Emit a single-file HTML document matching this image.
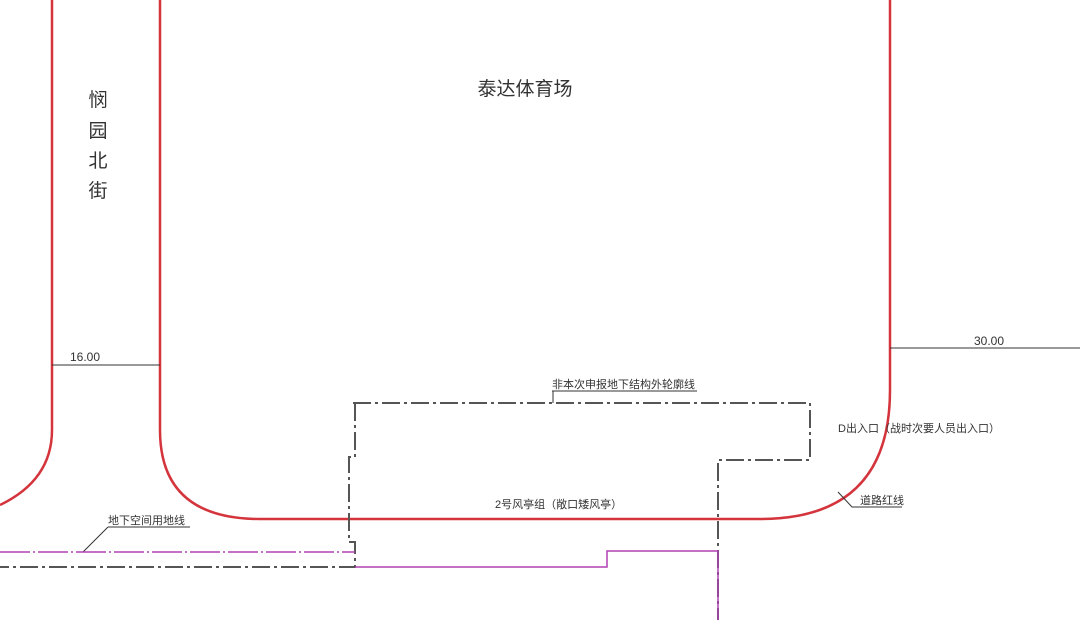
<!DOCTYPE html>
<html><head><meta charset="utf-8"><style>
html,body{margin:0;padding:0;background:#fff;}
svg{display:block;}
text{font-family:"Liberation Sans","Noto Sans CJK SC",sans-serif;fill:#333;}
</style></head><body>
<svg width="1080" height="620" viewBox="0 0 1080 620" xmlns="http://www.w3.org/2000/svg">
<g fill="none" stroke="#d4343c" stroke-width="2.5">
<path d="M52 0 V430 Q52 480 0 505"/>
<path d="M160 0 V430 Q160 519 260 519 H760 Q890 519 890 390 V0"/>
</g>
<g stroke="#333" stroke-width="1" fill="none">
<path d="M52 365 H160"/>
<path d="M890 348 H1080"/>
<path d="M552 391 H697 M553 391 V403"/>
<path d="M860 507 H902 M838 492 L852 507 H860"/>
<path d="M108 527 H190 M108 527 L83 552"/>
</g>
<g fill="none" stroke="#555" stroke-width="2" stroke-dasharray="18 4 3 4">
<path d="M353 403 H810 V460 H718 V620"/>
<path d="M355 403 V457 H349 V542 H355 V567 H0"/>
</g>
<g fill="none" stroke="#b040b0" stroke-width="1.5">
<path d="M0 552 H355" stroke-dasharray="30 3 2 3"/>
<path d="M355 567 H607 V551 H718 V620"/>
</g>
<text x="70" y="361" font-size="12">16.00</text>
<text x="974" y="345" font-size="12">30.00</text>
<text x="525" y="95" font-size="19" text-anchor="middle">泰达体育场</text>
<g font-size="19" text-anchor="middle">
<text x="98" y="106">悯</text><text x="98" y="137">园</text><text x="98" y="167">北</text><text x="98" y="197">街</text>
</g>
<text x="552" y="388" font-size="11">非本次申报地下结构外轮廓线</text>
<text x="838" y="432" font-size="11">D出入口（战时次要人员出入口）</text>
<text x="495" y="508" font-size="11">2号风亭组（敞口矮风亭）</text>
<text x="860" y="504" font-size="11">道路红线</text>
<text x="108" y="524" font-size="11">地下空间用地线</text>
</svg>
</body></html>
